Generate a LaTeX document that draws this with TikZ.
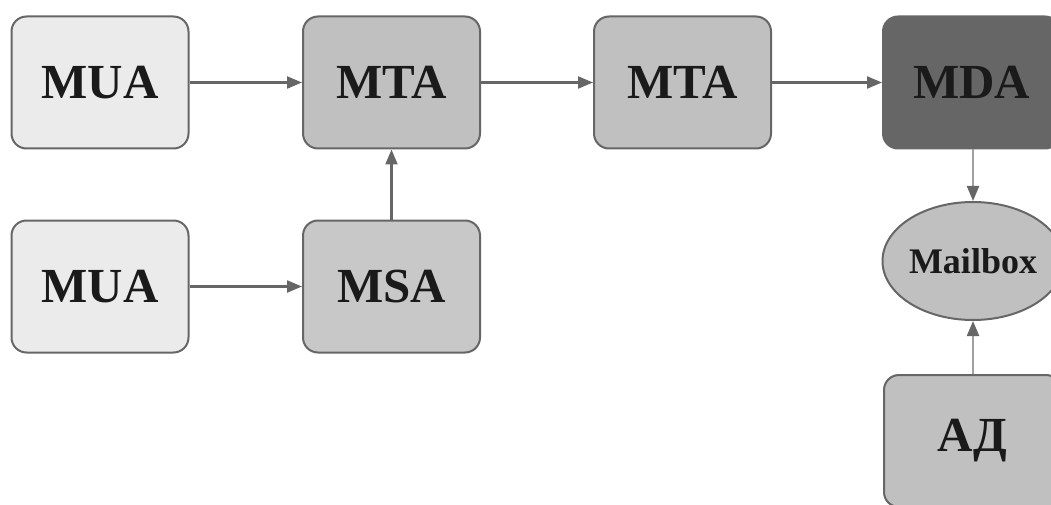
\documentclass[tikz,border=0pt]{standalone}
\usepackage{fontspec}
\setmainfont{Liberation Serif}
\usetikzlibrary{arrows.meta,shapes.geometric}
\definecolor{edge}{HTML}{666666}
\definecolor{lightedge}{HTML}{A0A0A0}
\definecolor{cLight}{HTML}{EBEBEB}
\definecolor{cMid}{HTML}{C0C0C0}
\definecolor{cMsa}{HTML}{C8C8C8}
\definecolor{cDark}{HTML}{666666}
\definecolor{txt}{HTML}{1A1A1A}
\tikzset{
  box/.style={draw=edge, line width=2pt, rounded corners=15pt, minimum width=177pt, minimum height=132pt, inner sep=0pt, text=txt, font=\fontsize{49}{49}\selectfont\bfseries},
  oval/.style={ellipse, draw=edge, line width=2pt, minimum width=176pt, minimum height=118pt, inner sep=0pt, text=txt, font=\fontsize{36}{36}\selectfont\bfseries},
  conn/.style={draw=edge, line width=2.2pt, -{Triangle[length=15pt,width=12pt]}},
  vconn/.style={draw=lightedge, line width=2.2pt, -{Triangle[length=15pt,width=12pt,fill=edge,color=edge]}}
}
\begin{document}
\begin{tikzpicture}[x=1pt,y=-1pt]
\useasboundingbox (0,0) rectangle (1051,505);
\clip (0,0) rectangle (1051,505);
\node[box, fill=cLight] (mua1) at (100,82.5) {MUA};
\node[box, fill=cMid] (mta1) at (391.5,82.5) {MTA};
\node[box, fill=cMid] (mta2) at (682.5,82.5) {MTA};
\node[box, fill=cDark] (mda) at (971.5,82.5) {MDA};
\node[box, fill=cLight] (mua2) at (100,286.5) {MUA};
\node[box, fill=cMsa] (msa) at (391.5,286.5) {MSA};
\node[oval, fill=cMid] (mbox) at (973,261) {Mailbox};
\node[box, fill=cMid] (ad) at (972.5,441) {АД};
\draw[conn] (mua1) -- (mta1);
\draw[conn] (mta1) -- (mta2);
\draw[conn] (mta2) -- (mda);
\draw[conn] (mua2) -- (msa);
\draw[conn] (msa) -- (mta1);
\draw[vconn] (mda.south -| mbox.north) -- (mbox.north);
\draw[vconn] (ad.north -| mbox.south) -- (mbox.south);
\end{tikzpicture}
\end{document}
